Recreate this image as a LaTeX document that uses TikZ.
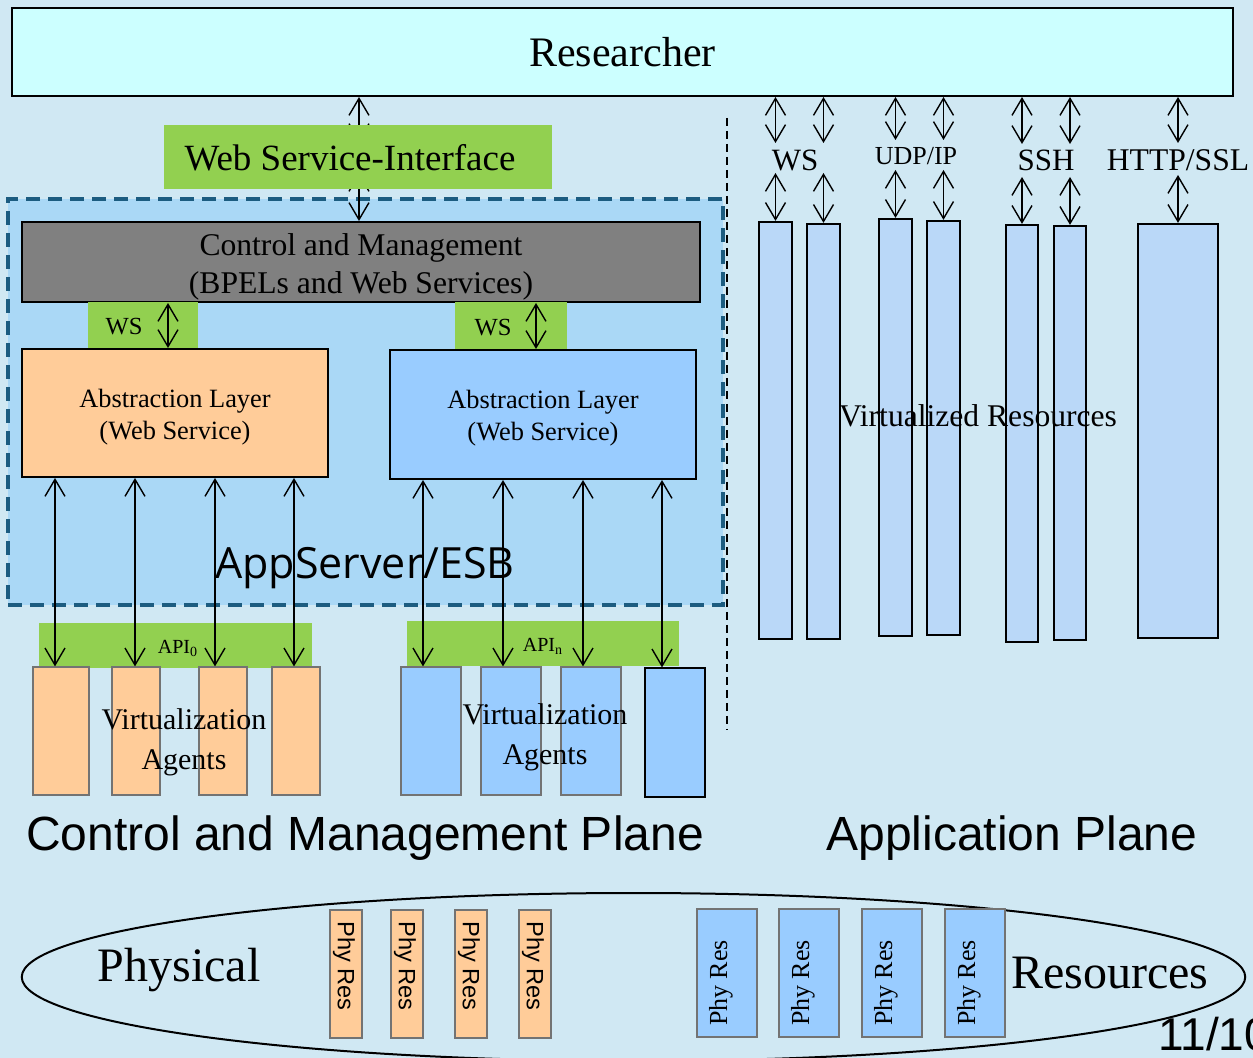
\documentclass[tikz,border=0pt]{standalone}
\usepackage{fontspec}
\setmainfont{Liberation Serif}
\setsansfont{Liberation Sans}
\newfontfamily\appfont{Open Sans}
\usetikzlibrary{arrows.meta,calc,shapes.geometric}
\definecolor{bgc}{RGB}{208,232,243}
\definecolor{resc}{RGB}{204,255,255}
\definecolor{grn}{RGB}{146,208,80}
\definecolor{ctrlc}{RGB}{128,128,128}
\definecolor{peach}{RGB}{255,204,153}
\definecolor{albl}{RGB}{153,204,255}
\definecolor{vrc}{RGB}{186,216,248}
\definecolor{esbfill}{RGB}{170,216,246}
\definecolor{esbdash}{RGB}{28,92,128}
\newcommand\fs[2]{\fontsize{#1pt}{#2pt}\selectfont}
\newcommand\bx[7]{%
  \pgfmathsetmacro\myW{(#4-#2)*0.5}%
  \pgfmathsetmacro\myH{(#5-#3)*0.5}%
  \node[#6,minimum width=\myW pt,minimum height=\myH pt,inner sep=0pt] (#1) at ({(#2+#4)/2},{(#3+#5)/2}) {#7};}
\begin{document}
\begin{tikzpicture}[x=0.5pt,y=-0.5pt,
  box/.style={draw=black,line width=1pt,align=center,text=black},
  gbox/.style={fill=grn,draw=none},
  agL/.style={fill=peach,draw=black!55,line width=0.6pt},
  agR/.style={fill=albl,draw=black!55,line width=0.6pt},
  vres/.style={fill=vrc,draw=black,line width=1.1pt},
  lbl/.style={inner sep=0pt,align=center,text=black},
  dbl/.style={{Straight Barb[length=8.5pt,width=10pt]}-{Straight Barb[length=8.5pt,width=10pt]},line width=0.7pt},
  esbst/.style={fill=esbfill,draw=esbdash,line width=2pt,dash pattern=on 7pt off 4pt}]
\useasboundingbox (0,0) rectangle (1253,1058);
\fill[bgc] (0,0) rectangle (1253,1058);
% dashed separator
\coordinate (dl1) at (727,118);
\coordinate (dl2) at (727,730);
\draw[dashed,line width=0.7pt,dash pattern=on 4pt off 2.5pt] (dl1) -- (dl2);
% AppServer region
\bx{esb}{8}{199}{723}{605}{esbst}{}
\node[lbl,font=\appfont\fs{21.5}{24}] (esbt) at (365,568) {AppServer/ESB};
% Researcher
\bx{res}{12}{8}{1233}{96}{box,fill=resc,font={\fs{21}{25}}}{Researcher}
% Control and Management
\bx{ctrl}{22}{222}{700}{302}{box,fill=ctrlc}{}
\node[lbl,font=\fs{15.8}{19}] (ctrlt) at (361,267) {Control and Management\\(BPELs and Web Services)};
% arrows researcher <-> control (behind web service interface)
\coordinate (wa) at (359,142);
\coordinate (wb) at (359,173);
\draw[dbl] (res.south -| wa) -- (wa);
\draw[dbl] (wb) -- (wb |- ctrl.north);
% Web Service-Interface
\bx{wsi}{164}{125}{552}{189}{gbox}{}
\node[lbl,font=\fs{18.5}{22}] (wsit) at (350,158) {Web Service-Interface};
% WS boxes
\bx{wsL}{88}{302}{198}{349}{gbox}{}
\bx{wsR}{455}{302}{567}{350}{gbox}{}
\node[lbl,font=\fs{12.3}{14}] (wsLt) at (124,327) {WS};
\node[lbl,font=\fs{12.3}{14}] (wsRt) at (493,328) {WS};
% Abstraction layers
\bx{alL}{22}{349}{328}{477}{box,fill=peach}{}
\bx{alR}{390}{350}{696}{479}{box,fill=albl}{}
\node[lbl,font=\fs{13.2}{16}] (alLt) at (175,417) {Abstraction Layer\\(Web Service)};
\node[lbl,font=\fs{13.2}{16}] (alRt) at (543,418.5) {Abstraction Layer\\(Web Service)};
\coordinate (kL) at (168,0);
\coordinate (kR) at (536,0);
\draw[dbl] (ctrl.south -| kL) -- (alL.north -| kL);
\draw[dbl] (ctrl.south -| kR) -- (alR.north -| kR);
% API boxes
\bx{apiL}{39}{623}{312}{668}{gbox}{}
\bx{apiR}{407}{621}{679}{666}{gbox}{}
\node[lbl,font=\fs{10}{12}] (apiLt) at (178,648) {API\textsubscript{0}};
\node[lbl,font=\fs{10}{12}] (apiRt) at (543,646) {API\textsubscript{n}};
% Virtualization agents
\bx{a1}{33}{667}{89}{795}{agL}{}
\bx{a2}{112}{667}{160}{795}{agL}{}
\bx{a3}{199}{667}{247}{795}{agL}{}
\bx{a4}{272}{667}{320}{795}{agL}{}
\bx{b1}{401}{667}{461}{795}{agR}{}
\bx{b2}{481}{667}{541}{795}{agR}{}
\bx{b3}{561}{667}{621}{795}{agR}{}
\bx{b4}{645}{668}{705}{797}{agR,draw=black}{}
% arrows abstraction <-> agents
\foreach \xx/\nm/\ag in {55/p1/a1,135/p2/a2,215/p3/a3,294/p4/a4}{
  \coordinate (\nm) at (\xx,0);
  \draw[dbl] (alL.south -| \nm) -- (\nm |- \ag.north);
}
\foreach \xx/\nm/\ag in {423/q1/b1,503/q2/b2,583/q3/b3,662/q4/b4}{
  \coordinate (\nm) at (\xx,0);
  \draw[dbl] (alR.south -| \nm) -- (\nm |- \ag.north);
}
\node[lbl,font=\fs{15}{20}] (vaL) at (184,742) {Virtualization\\Agents};
\node[lbl,font=\fs{15}{20}] (vaR) at (545,737) {Virtualization\\Agents};
% Application plane resources
\bx{r1}{759}{222}{792}{639}{vres}{}
\bx{r2}{807}{224}{840}{639}{vres}{}
\bx{r3}{879}{219}{912}{636}{vres}{}
\bx{r4}{927}{221}{960}{635}{vres}{}
\bx{r5}{1006}{225}{1038}{642}{vres}{}
\bx{r6}{1054}{226}{1086}{640}{vres}{}
\bx{r7}{1138}{224}{1218}{638}{vres}{}
\node[lbl,font=\fs{15.5}{18}] (lws) at (795,160) {WS};
\node[lbl,font=\fs{13}{15}] (ludp) at (916,156) {UDP/IP};
\node[lbl,font=\fs{15.5}{18}] (lssh) at (1046,160) {SSH};
\node[lbl,font=\fs{15.8}{18}] (lhttp) at (1178,160) {HTTP/SSL};
\coordinate (wsA) at (0,143); \coordinate (wsB) at (0,173);
\coordinate (udA) at (0,140); \coordinate (udB) at (0,170);
\coordinate (shA) at (0,144); \coordinate (shB) at (0,177);
\coordinate (htA) at (0,143); \coordinate (htB) at (0,175);
\foreach \r/\ya/\yb in {r1/wsA/wsB,r2/wsA/wsB,r3/udA/udB,r4/udA/udB,r5/shA/shB,r6/shA/shB,r7/htA/htB}{
  \draw[dbl] (res.south -| \r) -- (\r |- \ya);
  \draw[dbl] (\r |- \yb) -- (\r.north);
}
\node[lbl,font=\fs{15.8}{18}] (vrt) at (978,416) {Virtualized Resources};
% plane labels
\node[lbl,font=\sffamily\fs{24}{28}] (cmp) at (365,838) {Control and Management Plane};
\node[lbl,font=\sffamily\fs{24}{28}] (app) at (1012,838) {Application Plane};
% Physical resources ellipse
\node[draw=black,line width=1pt,ellipse,minimum width=611.75pt,minimum height=84pt,inner sep=0pt] (phys) at (633.5,977) {};
\node[lbl,font=\fs{24}{28}] (physt) at (179,970) {Physical};
\node[lbl,font=\fs{24}{28}] (rest) at (1110,973) {Resources};
\foreach \x/\nm in {330/s1,391/s2,455/s3,519/s4}{
  \bx{\nm}{\x}{910}{\x+32}{1038}{agL}{}
  \node[lbl,rotate=-90,font=\sffamily\fs{11.8}{14}] at ($(\nm.center)+(-2,-8)$) {Phy Res};
}
\foreach \x/\nm in {697/t1,779/t2,862/t3,945/t4}{
  \bx{\nm}{\x}{909}{\x+60}{1037}{agR}{}
  \node[lbl,rotate=90,font=\fs{13}{15}] at ($(\nm.center)+(-6,10)$) {Phy Res};
}
\node[lbl,anchor=base west,font=\sffamily\fs{23}{26}] (pg) at (1158,1050) {11/10};
\end{tikzpicture}
\end{document}
